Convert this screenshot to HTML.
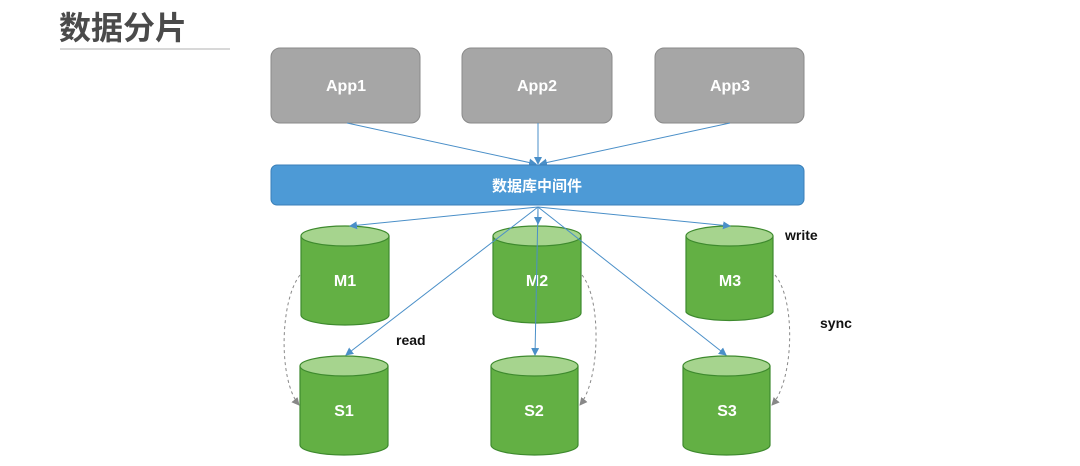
<!DOCTYPE html>
<html><head><meta charset="utf-8"><style>
body{margin:0;background:#fff;width:1080px;height:461px;overflow:hidden}
svg text{font-family:"Liberation Sans","Noto Sans CJK SC",sans-serif;font-weight:bold}
</style></head><body>
<svg width="1080" height="461" viewBox="0 0 1080 461">
<defs>
<marker id="a" markerWidth="8" markerHeight="8" refX="7" refY="4" orient="auto" markerUnits="userSpaceOnUse"><path d="M0,0 L8,4 L0,8 z" fill="#4a8fc8"/></marker>
<marker id="g" markerWidth="8" markerHeight="8" refX="7" refY="4" orient="auto" markerUnits="userSpaceOnUse"><path d="M0,0 L8,4 L0,8 z" fill="#888"/></marker>
</defs>
<text x="59" y="39" font-size="32" fill="#4a4a4a">数据分片</text>
<line x1="60" y1="49" x2="230" y2="49" stroke="#ccc" stroke-width="1.5"/>
<g fill="#a6a6a6" stroke="#8a8a8a" stroke-width="1">
<rect x="271" y="48" width="149" height="75" rx="9"/>
<rect x="462" y="48" width="150" height="75" rx="9"/>
<rect x="655" y="48" width="149" height="75" rx="9"/>
</g>
<g font-size="16" fill="#fff" text-anchor="middle">
<text x="346" y="91">App1</text><text x="537" y="91">App2</text><text x="730" y="91">App3</text>
</g>
<g stroke="#4a8fc8" stroke-width="1" fill="none" marker-end="url(#a)">
<line x1="347" y1="123" x2="536" y2="164"/>
<line x1="538" y1="123" x2="538" y2="164"/>
<line x1="730" y1="123" x2="540" y2="164"/>
</g>
<rect x="271" y="165" width="533" height="40" rx="6" fill="#4d9ad6" stroke="#3a7fb8"/>
<text x="537" y="191" font-size="15" fill="#fff" text-anchor="middle">数据库中间件</text>
<g stroke="#3e8a2e" stroke-width="1.2">
<g><path d="M301,236 L301,315 A44,10 0 0 0 389,315 L389,236" fill="#63b044"/><ellipse cx="345" cy="236" rx="44" ry="10" fill="#a6d48e"/></g>
<g><path d="M493,236 L493,313 A44,10 0 0 0 581,313 L581,236" fill="#63b044"/><ellipse cx="537" cy="236" rx="44" ry="10" fill="#a6d48e"/></g>
<g><path d="M686,236 L686,312 A44,10 0 0 0 773,312 L773,236" fill="#63b044"/><ellipse cx="729.5" cy="236" rx="43.5" ry="10" fill="#a6d48e"/></g>
<g><path d="M300,366 L300,445 A44,10 0 0 0 388,445 L388,366" fill="#63b044"/><ellipse cx="344" cy="366" rx="44" ry="10" fill="#a6d48e"/></g>
<g><path d="M491,366 L491,445 A43.5,10 0 0 0 578,445 L578,366" fill="#63b044"/><ellipse cx="534.5" cy="366" rx="43.5" ry="10" fill="#a6d48e"/></g>
<g><path d="M683,366 L683,445 A43.5,10 0 0 0 770,445 L770,366" fill="#63b044"/><ellipse cx="726.5" cy="366" rx="43.5" ry="10" fill="#a6d48e"/></g>
</g>
<g font-size="16" fill="#fff" text-anchor="middle">
<text x="345" y="286">M1</text><text x="537" y="286">M2</text><text x="730" y="286">M3</text>
<text x="344" y="416">S1</text><text x="534" y="416">S2</text><text x="727" y="416">S3</text>
</g>
<g stroke="#4a8fc8" stroke-width="1" fill="none" marker-end="url(#a)">
<line x1="538" y1="207" x2="350" y2="226"/>
<line x1="538" y1="207" x2="538" y2="224"/>
<line x1="538" y1="207" x2="730" y2="226"/>
<line x1="538" y1="207" x2="346" y2="355"/>
<line x1="538" y1="207" x2="535" y2="355"/>
<line x1="538" y1="207" x2="726" y2="355"/>
</g>
<g stroke="#888" stroke-width="1" stroke-dasharray="3,3" fill="none" marker-end="url(#g)">
<path d="M300,275 C280,300 278,380 299,405"/>
<path d="M582,275 C602,300 600,380 580,405"/>
<path d="M775,275 C796,300 794,380 772,405"/>
</g>
<g font-size="14" fill="#111">
<text x="785" y="240">write</text><text x="396" y="345">read</text><text x="820" y="328">sync</text>
</g>
</svg>
</body></html>
